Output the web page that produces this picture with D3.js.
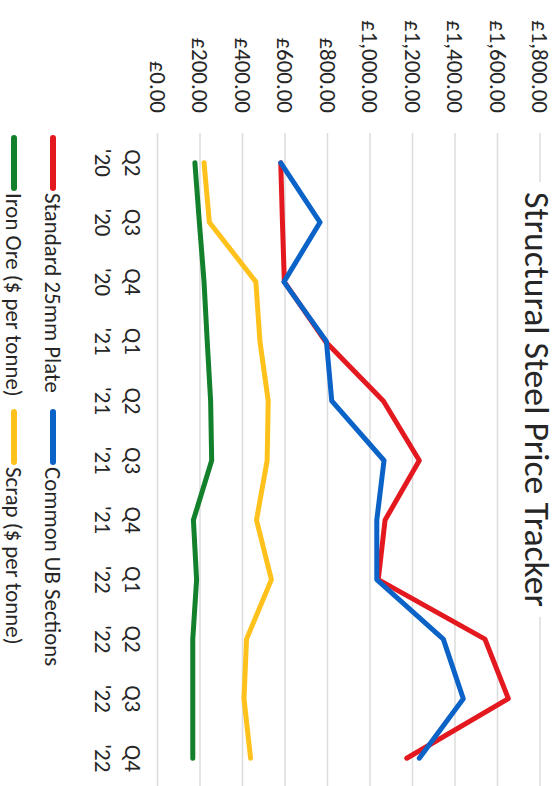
<!DOCTYPE html>
<html>
<head>
<meta charset="utf-8">
<script src="https://cdn.jsdelivr.net/npm/d3@7"></script>
<style>
  html, body { margin: 0; padding: 0; background: #fff; }
  svg { display: block; }
  text { font-family: Carlito, Calibri, Lato, "Open Sans", sans-serif; fill: #262626; }
</style>
</head>
<body>
<script>
// ---- data ----
const quarterLabels = ["Q2","Q3","Q4","Q1","Q2","Q3","Q4","Q1","Q2","Q3","Q4"];
const yearLabels    = ["'20","'20","'20","'21","'21","'21","'21","'22","'22","'22","'22"];
const plate = [580, 588, 597, 790, 1063, 1232, 1071, 1039, 1541, 1651, 1173];
const ubSections = [580, 765, 595, 795, 820, 1066, 1032, 1032, 1345, 1439, 1232];
const scrap = [219, 244, 463, 482, 521, 516, 466, 536, 419, 407, 438];
const ironOre = [176, 197, 219, 234, 250, 255, 169, 184, 166, 166, 166];
const seriesNames = ["Standard 25mm Plate", "Common UB Sections", "Iron Ore ($ per tonne)", "Scrap ($ per tonne)"];
const yTicks = [0, 200, 400, 600, 800, 1000, 1200, 1400, 1600, 1800];
const titleText = "Structural Steel Price Tracker";

const W = 559, H = 786;
const colors = ["#e3191f", "#0b63c8", "#13802b", "#ffc21c"];
const seriesData = [plate, ubSections, ironOre, scrap];

const svg = d3.select("body").append("svg").attr("width", W).attr("height", H);
svg.append("rect").attr("width", W).attr("height", H).attr("fill", "#fff");

// whole chart drawn in an unrotated frame (786 wide x 559 tall) then rotated 90° clockwise
const g = svg.append("g").attr("transform", `translate(${W},0) rotate(90)`);

const idx = d3.range(quarterLabels.length);
const x = d3.scalePoint().domain(idx).range([133, 788]).padding(0.5);
const y = d3.scaleLinear().domain([0, 1800]).range([401.5, 19]);

// gridlines
g.append("g").selectAll("line").data(yTicks).join("line")
  .attr("x1", 133).attr("x2", 788)
  .attr("y1", d => y(d)).attr("y2", d => y(d))
  .attr("stroke", "#dcdcdc").attr("stroke-width", 1.5);

// value axis labels
const fmt = d => "£" + d3.format(",.2f")(d);
const yAxis = g.append("g").attr("transform", "translate(113,0)")
  .call(d3.axisLeft(y).tickValues(yTicks).tickFormat(fmt).tickSize(0).tickPadding(0));
yAxis.select(".domain").remove();
yAxis.selectAll("text").attr("font-size", 22).attr("fill", "#262626")
  .attr("font-family", "Carlito, Calibri, Lato, sans-serif");

// category labels
const xAxis = g.append("g");
xAxis.selectAll("text.q").data(idx).join("text").attr("class", "q")
  .attr("x", d => x(d)).attr("y", 426).attr("text-anchor", "middle")
  .attr("dominant-baseline", "central").attr("font-size", 22)
  .text(d => quarterLabels[d]);
xAxis.selectAll("text.yr").data(idx).join("text").attr("class", "yr")
  .attr("x", d => x(d)).attr("y", 456).attr("text-anchor", "middle")
  .attr("dominant-baseline", "central").attr("font-size", 22)
  .text(d => yearLabels[d]);

// lines
const line = d3.line().x((d, i) => x(i)).y(d => y(d));
g.append("g").selectAll("path").data(seriesData).join("path")
  .attr("d", d => line(d))
  .attr("fill", "none")
  .attr("stroke", (d, i) => colors[i])
  .attr("stroke-width", 5)
  .attr("stroke-linejoin", "round")
  .attr("stroke-linecap", "round");

// title with white background
const titleG = g.append("g");
const titleBg = titleG.append("rect").attr("fill", "#fff");
const title = titleG.append("text").attr("x", 399.5).attr("y", 34)
  .attr("text-anchor", "middle").attr("font-size", 34).text(titleText);

// legend
const legendItems = [
  { name: seriesNames[0], color: colors[0], u: 138, v: 506 },
  { name: seriesNames[1], color: colors[1], u: 412, v: 506 },
  { name: seriesNames[2], color: colors[2], u: 138, v: 545 },
  { name: seriesNames[3], color: colors[3], u: 412, v: 545 }
];
const leg = g.append("g").selectAll("g").data(legendItems).join("g");
leg.append("line").attr("x1", d => d.u).attr("x2", d => d.u + 50)
  .attr("y1", d => d.v).attr("y2", d => d.v)
  .attr("stroke", d => d.color).attr("stroke-width", 6).attr("stroke-linecap", "round");
const legText = leg.append("text").attr("x", d => d.u + 55).attr("y", d => d.v)
  .attr("dominant-baseline", "central").attr("font-size", 22).text(d => d.name);

// fit font sizes to the reference text widths
function fit(sel, refNode, target) {
  const w = refNode.getComputedTextLength();
  const fs = parseFloat(d3.select(refNode).attr("font-size"));
  const nfs = fs * target / w;
  sel.attr("font-size", nfs);
  return nfs;
}
fit(title, title.node(), 415);
const tickTexts = yAxis.selectAll("text");
fit(tickTexts, tickTexts.nodes()[tickTexts.size() - 1], 93);
fit(legText, legText.nodes()[0], 200);
const axFs = parseFloat(tickTexts.attr("font-size"));
xAxis.selectAll("text").attr("font-size", axFs);

const tb = title.node().getBBox();
titleBg.attr("x", tb.x - 10).attr("y", tb.y).attr("width", tb.width + 20).attr("height", tb.height);
</script>
</body>
</html>
